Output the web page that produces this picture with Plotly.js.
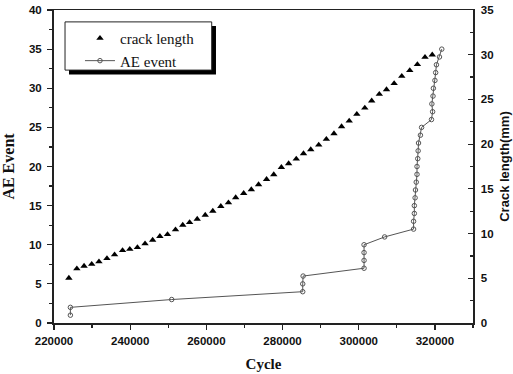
<!DOCTYPE html>
<html>
<head>
<meta charset="utf-8">
<script src="https://cdn.plot.ly/plotly-3.0.1.min.js"></script>
<style>html,body{margin:0;padding:0;background:#fff;}#chart{width:513px;height:374px;}</style>
</head>
<body>
<div id="chart"></div>
<script>
// Crack length (right axis, mm) vs cycle
const crackCycle = [223900, 226000, 227900, 229900, 231800, 233900, 235900, 238000, 239900, 241900,
  243900, 245900, 247800, 249800, 251900, 253800, 255600, 257600, 259700, 261700,
  263800, 265800, 267700, 269800, 271800, 273700, 275800, 277700, 279700, 281600,
  283600, 285500, 287400, 289500, 291500, 293500, 295500, 297500, 299500, 301600,
  303400, 305400, 307300, 309300, 311300, 313400, 315400, 317400, 319300];
const crackLength = [5.02, 6.07, 6.36, 6.58, 6.85, 7.22, 7.64, 8.12, 8.26, 8.45,
  8.87, 9.27, 9.69, 9.91, 10.44, 10.95, 11.25, 11.62, 12.07, 12.52,
  13.05, 13.46, 14.02, 14.50, 14.92, 15.48, 16.07, 16.60, 17.41, 17.83,
  18.34, 18.95, 19.40, 19.91, 20.55, 21.19, 21.97, 22.60, 23.35, 24.05,
  24.84, 25.59, 26.11, 26.79, 27.60, 28.24, 28.91, 29.73, 29.99];

// Cumulative AE events (left axis) vs cycle
const aeCycle = [224300, 224300, 250900, 285300, 285300, 285400, 301400, 301400, 301400, 301400,
  306800, 314400, 314400, 314600, 314600, 314800, 314900, 315100, 315300, 315300,
  315500, 315600, 315700, 316200, 316500, 319100, 319400, 319200, 319500, 319600,
  320000, 320200, 320400, 321200, 321800];
const aeEvent = [1, 2, 3, 4, 5, 6, 7, 8, 9, 10,
  11, 12, 13, 14, 15, 16, 17, 18, 19, 20,
  21, 22, 23, 24, 25, 26, 27, 28, 29, 30,
  31, 32, 33, 34, 35];

const seriesNames = ['crack length', 'AE event'];
const xTitle = 'Cycle';
const yTitle = 'AE Event';
const y2Title = 'Crack length(mm)';

const tickFont = {family: 'Liberation Sans, Arial, sans-serif', size: 11.5, color: '#111', weight: 'bold'};
const serif = 'Liberation Serif, Times New Roman, serif';

const traces = [
  {
    x: crackCycle, y: crackLength, yaxis: 'y2', name: seriesNames[0],
    mode: 'markers', type: 'scatter',
    marker: {symbol: 'triangle-up', size: 6.5, color: '#000'}
  },
  {
    x: aeCycle, y: aeEvent, yaxis: 'y', name: seriesNames[1],
    mode: 'lines+markers', type: 'scatter',
    line: {color: '#555', width: 1},
    marker: {symbol: 'circle-open', size: 4.5, color: '#555', line: {width: 1}}
  }
];

const layout = {
  width: 513, height: 374,
  margin: {l: 54, r: 40, t: 10, b: 51},
  paper_bgcolor: '#fff', plot_bgcolor: '#fff',
  showlegend: true,
  legend: {
    x: 0.062, y: 0.962, xanchor: 'left', yanchor: 'top',
    bgcolor: 'rgba(0,0,0,0)', borderwidth: 0,
    font: {family: serif, size: 15, color: '#111'},
    traceorder: 'normal'
  },
  xaxis: {
    range: [220000, 330000], dtick: 20000, tick0: 220000,
    showgrid: false, zeroline: false,
    showline: true, linecolor: '#222', linewidth: 1.5, mirror: true,
    ticks: 'outside', ticklen: 5, tickcolor: '#222', tickwidth: 1.2,
    minor: {dtick: 10000, ticks: 'outside', ticklen: 3, tickcolor: '#222'},
    tickfont: tickFont, tickformat: 'd', ticklabelstandoff: 2,
    title: {text: xTitle, font: {family: serif, size: 15, weight: 'bold', color: '#111'}, standoff: 12}
  },
  yaxis: {
    range: [0, 40], dtick: 5,
    showgrid: false, zeroline: false,
    showline: true, linecolor: '#222', linewidth: 2,
    ticks: 'outside', ticklen: 5, tickcolor: '#222', tickwidth: 1.2,
    minor: {dtick: 2.5, ticks: 'outside', ticklen: 3, tickcolor: '#222'},
    tickfont: tickFont, ticklabelstandoff: 3,
    title: {text: yTitle, font: {family: serif, size: 16, weight: 'bold', color: '#111'}, standoff: 10}
  },
  yaxis2: {
    range: [0, 35], dtick: 5, overlaying: 'y', side: 'right',
    showgrid: false, zeroline: false,
    showline: true, linecolor: '#222', linewidth: 1.5,
    ticks: 'inside', ticklen: 5, tickcolor: '#222', tickwidth: 1.2,
    minor: {dtick: 2.5, ticks: 'inside', ticklen: 3, tickcolor: '#222'},
    tickfont: tickFont, ticklabelstandoff: 4,
    title: {text: y2Title, font: {family: 'Liberation Sans, Arial, sans-serif', size: 13, weight: 'bold', color: '#111'}, standoff: 6}
  },
  shapes: [
    {type: 'rect', xref: 'paper', yref: 'paper', x0: 0.0358, x1: 0.3866, y0: 0.794, y1: 0.949,
     fillcolor: '#000', line: {width: 0}, layer: 'above'},
    {type: 'rect', xref: 'paper', yref: 'paper', x0: 0.0263, x1: 0.3764, y0: 0.808, y1: 0.962,
     fillcolor: '#fff', line: {color: '#222', width: 1}, layer: 'above'}
  ]
};

Plotly.newPlot('chart', traces, layout, {displayModeBar: false, staticPlot: true});
</script>
</body>
</html>
